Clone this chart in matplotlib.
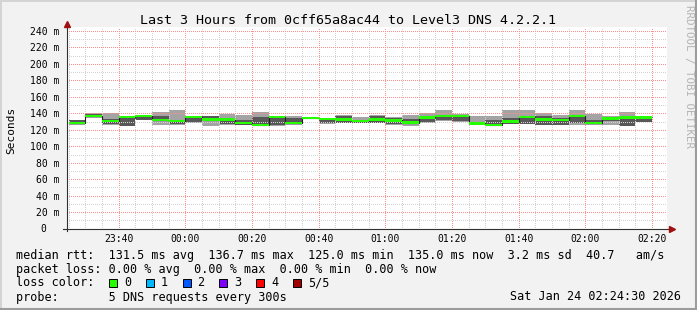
import matplotlib
matplotlib.use("Agg")
import matplotlib.pyplot as plt
import matplotlib.dates as mdates
import numpy as np
import pandas as pd
from matplotlib.patches import Rectangle
from matplotlib.lines import Line2D
from matplotlib.transforms import ScaledTranslation

plt.rcParams["font.family"] = ["DejaVu Sans Mono", "DejaVu Sans"]

W, H = 697, 310

# ---------------- data ----------------
title = "Last 3 Hours from 0cff65a8ac44 to Level3 DNS 4.2.2.1"
ylabel = "Seconds"
start_time = "2026-01-23 23:24:30"
end_time = "2026-01-24 02:24:30"
first_block_end = "2026-01-23 23:30"
step_minutes = 5

ping_min = [126.3, 134.0, 125.5, 124.3, 132.0, 125.3, 126.3, 128.5, 125.1, 126.0,
            126.0, 125.0, 125.0, 125.5, 133.0, 127.5, 128.0, 128.0, 128.0, 126.0,
            125.0, 128.0, 131.0, 130.0, 126.5, 125.0, 127.0, 127.0, 126.0, 126.0,
            126.0, 126.3, 126.3, 125.0, 129.2]
ping_q1 = [127.8, 135.7, 127.6, 124.5, 132.5, 131.5, 127.6, 129.2, 131.6, 126.7,
           126.3, 125.2, 125.5, 127.5, 134.0, 128.0, 128.4, 128.4, 128.4, 127.0,
           127.5, 129.5, 131.6, 130.4, 127.0, 125.5, 127.6, 127.6, 126.3, 126.3,
           128.4, 127.0, 130.4, 125.1, 130.0]
ping_median = [128.3, 136.7, 130.5, 135.5, 136.5, 131.8, 130.5, 135.5, 132.5, 132.5,
               128.5, 125.5, 135.5, 128.0, 134.2, 133.0, 132.5, 131.0, 132.5, 131.3,
               128.8, 135.0, 136.7, 136.5, 127.8, 125.8, 130.0, 135.3, 132.5, 131.5,
               136.5, 128.0, 133.8, 134.8, 135.0]
ping_q3 = [131.5, 139.0, 133.3, 136.0, 137.5, 137.3, 132.5, 135.8, 136.5, 133.0,
           131.6, 135.7, 136.0, 134.5, 134.8, 133.3, 137.3, 131.8, 137.0, 134.5,
           133.0, 135.7, 138.5, 137.0, 130.0, 132.5, 134.5, 137.3, 136.5, 134.5,
           138.5, 132.5, 134.5, 136.5, 135.5]
ping_max = [132.5, 140.5, 140.6, 136.5, 138.5, 142.2, 143.8, 136.5, 137.0, 139.0,
            138.0, 142.2, 136.5, 136.5, 136.0, 134.0, 137.5, 135.7, 137.5, 135.0,
            138.5, 140.6, 143.8, 139.0, 137.3, 137.3, 143.8, 143.8, 140.0, 138.5,
            144.6, 139.0, 136.5, 142.2, 137.3]

y_ticks = list(range(0, 241, 20))
y_tick_labels = [f"{v} m" if v else "" for v in y_ticks]
zero_label = "0"

legend_lines = [
    "median rtt:  131.5 ms avg  136.7 ms max  125.0 ms min  135.0 ms now  3.2 ms sd  40.7   am/s",
    "packet loss: 0.00 % avg  0.00 % max  0.00 % min  0.00 % now",
    "loss color:",
    "probe:       5 DNS requests every 300s",
]
date_text = "Sat Jan 24 02:24:30 2026"
loss_labels = ["0", "1", "2", "3", "4", "5/5"]
loss_colors = ["#26ff00", "#00b8ff", "#0059ff", "#7e00ff", "#ff0000", "#a00000"]
watermark = "RRDTOOL / TOBI OETIKER"

# ---------------- styling ----------------
BG = "#f2f2f2"
LIGHT = "#a4a4a4"
DARK = "#585858"
GREEN = "#26ff00"

fig = plt.figure(figsize=(W / 100, H / 100), dpi=100, facecolor=BG)
ax_left, ax_right = 67, 667
ax_bottom, ax_top = 228.6, 27.3
ax = fig.add_axes([ax_left / W, 1 - ax_bottom / H, (ax_right - ax_left) / W,
                   (ax_bottom - ax_top) / H])
ax.set_facecolor("white")

t0 = mdates.date2num(pd.Timestamp(start_time).to_pydatetime())
t1 = mdates.date2num(pd.Timestamp(end_time).to_pydatetime())
block_ends = pd.date_range(first_block_end, periods=len(ping_median), freq=f"{step_minutes}min")
edges_ts = [block_ends[0] - pd.Timedelta(minutes=step_minutes)] + list(block_ends)
edges = mdates.date2num([e.to_pydatetime() for e in edges_ts])

pmin = np.array(ping_min)
pq1 = np.array(ping_q1)
pmed = np.array(ping_median)
pq3 = np.array(ping_q3)
pmax = np.array(ping_max)

ax.stairs(pq1, edges, baseline=pmin, fill=True, color=LIGHT, lw=0, zorder=2)
ax.stairs(pq3, edges, baseline=pq1, fill=True, color=DARK, lw=0, zorder=2)
ax.stairs(pmax, edges, baseline=pq3, fill=True, color=LIGHT, lw=0, zorder=2)
ax.stairs(pmed, edges, baseline=None, color="#202020", lw=0.8, zorder=3)
ax.stairs(pmed + 1.4, edges, baseline=pmed - 1.4, fill=True, color=GREEN, lw=0, zorder=4)

ax.set_xlim(t0, t1)
ax.set_ylim(0, 244.5)

ax.xaxis.set_major_locator(mdates.MinuteLocator(byminute=[0, 20, 40]))
ax.xaxis.set_minor_locator(mdates.MinuteLocator(byminute=range(0, 60, 5)))
ax.xaxis.set_major_formatter(mdates.DateFormatter("%H:%M"))
ax.set_yticks(y_ticks)
ax.set_yticklabels(y_tick_labels)
ax.set_yticks(range(0, 241, 10), minor=True)

ax.grid(which="minor", color="#d2d2d2", lw=0.72, ls=(0, (1, 1.2)), zorder=5,
        antialiased=False)
ax.grid(which="major", color="#ff8e8e", lw=0.72, ls=(0, (1, 1.2)), zorder=5,
        antialiased=False)
ax.set_axisbelow(False)

ax.tick_params(which="both", length=0)
ax.tick_params(axis="y", labelsize=7, pad=5.4, colors="black")
ax.tick_params(axis="x", labelsize=7, pad=3.6, colors="black")
for s in ax.spines.values():
    s.set_visible(False)

ax.text(0, 0, zero_label, transform=ax.get_yaxis_transform()
        + ScaledTranslation(-21 / 100, 0, fig.dpi_scale_trans),
        ha="right", va="center", fontsize=7)

# axes lines and arrows
axis_col = "#303030"
arrow_col = "#a01010"
h_ax = ax_bottom - ax_top
w_ax = ax_right - ax_left
ax.plot([0, 0], [-2 / h_ax, 1 + 1 / h_ax], color=axis_col, lw=0.8,
        transform=ax.transAxes, clip_on=False, zorder=6)
ax.plot([-4 / w_ax, 1 + 4 / w_ax], [0, 0], color=axis_col, lw=0.8,
        transform=ax.transAxes, clip_on=False, zorder=6)
ax.plot([0], [1 + 3.0 / h_ax], marker="^", ms=4, color=arrow_col, mec=arrow_col,
        transform=ax.transAxes, clip_on=False, zorder=7)
ax.plot([1 + 4.5 / w_ax], [0], marker=">", ms=4, color=arrow_col, mec=arrow_col,
        transform=ax.transAxes, clip_on=False, zorder=7)

# title and labels
fig.text(W / 2 / W, 1 - 24 / H, title, ha="center", va="baseline", fontsize=9.6)
fig.text(11 / W, 1 - 130 / H, ylabel, rotation=90, ha="center", va="center", fontsize=8)
fig.text(689 / W, 1 - 5 / H, watermark, rotation=270, ha="center", va="top",
         fontsize=7.8, color="#b4b4b4")

# legend
baselines = [259, 272.7, 286.5, 300.5]
for txt, yb in zip(legend_lines, baselines):
    fig.text(16 / W, 1 - yb / H, txt, ha="left", va="baseline", fontsize=8.5)
fig.text(681 / W, 1 - baselines[3] / H, date_text, ha="right", va="baseline", fontsize=8.5)

for i, (lab, col) in enumerate(zip(loss_labels, loss_colors)):
    bx = 109 + i * 36.8
    fig.add_artist(Rectangle((bx / W, 1 - 286.5 / H), 8 / W, 8 / H,
                             transform=fig.transFigure, facecolor=col,
                             edgecolor="black", lw=0.7))
    fig.text((bx + 15) / W, 1 - baselines[2] / H, lab, ha="left", va="baseline",
             fontsize=8.5)

# border
fig.add_artist(Line2D([0, 1], [1 - 0.5 / H, 1 - 0.5 / H], color="#d4d4d4", lw=1.4,
                      transform=fig.transFigure))
fig.add_artist(Line2D([0.5 / W, 0.5 / W], [0, 1], color="#d4d4d4", lw=1.4,
                      transform=fig.transFigure))
fig.add_artist(Line2D([0, 1], [1 / H, 1 / H], color="#9c9c9c", lw=1.5,
                      transform=fig.transFigure))
fig.add_artist(Line2D([1 - 1 / W, 1 - 1 / W], [0, 1], color="#9c9c9c", lw=1.5,
                      transform=fig.transFigure))

fig.savefig("out.png", dpi=100, facecolor=BG)
